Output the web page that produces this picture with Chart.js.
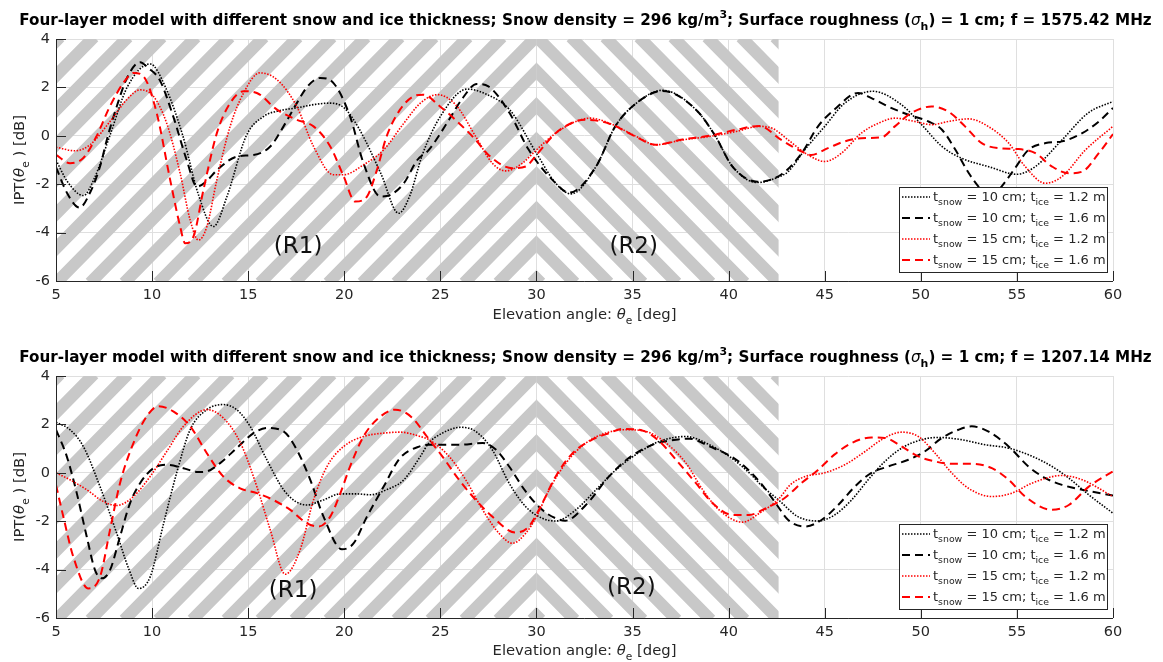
<!DOCTYPE html>
<html>
<head>
<meta charset="utf-8">
<script src="https://cdn.jsdelivr.net/npm/chart.js@4.4.1/dist/chart.umd.min.js"></script>
<style>
  body { margin: 0; background: #fff; width: 1163px; height: 662px; overflow: hidden; }
  .panel { position: absolute; left: 0; width: 1163px; height: 331px; }
</style>
</head>
<body>
<div class="panel" style="top:0"><canvas id="top"></canvas></div>
<div class="panel" style="top:331px"><canvas id="bottom"></canvas></div>
<script>
// ---- data: f = 1575.42 MHz (top panel) ----
const topDotBlackX = [5, 5.6, 6.42, 7.0, 7.8, 8.7, 9.9, 10.7, 11.6, 12.4, 13.19, 13.9, 14.9, 15.8, 16.7, 17.5, 18.5, 19.27, 20.0, 20.8, 21.9, 22.83, 23.4, 24.06, 25, 26.4, 27.3, 28.6, 30, 31, 31.8, 33.1, 34.1, 35.2, 36.56, 38.3, 39.3, 40.2, 41.5, 42.6, 43.1, 43.96, 45, 46.04, 47.5, 49, 50.04, 51.1, 52.1, 53.5, 55, 55.96, 57.35, 58.7, 60]
const topDotBlackY = [-1.0, -1.9, -2.47, -1.75, 0, 2.0, 2.97, 2.0, 0, -2.4, -3.75, -2.5, 0, 0.8, 1.05, 1.15, 1.3, 1.35, 1.15, 0.25, -1.55, -3.2, -2.5, -0.79, 0.8, 1.93, 1.75, 1.08, -0.72, -1.96, -2.4, -1.27, 0.39, 1.35, 1.88, 1.08, 0, -1.27, -1.93, -1.7, -1.48, -0.58, 0.39, 1.35, 1.84, 1.28, 0.46, -0.44, -0.92, -1.27, -1.59, -1.27, -0.17, 0.94, 1.42]

const topDashBlackX = [5, 5.6, 6.22, 6.8, 7.29, 7.7, 8.16, 8.7, 9.375, 9.8, 10.4, 11.1, 11.8, 12.33, 12.8, 13.4, 14.4, 15.28, 16.15, 16.84, 17.53, 18.1, 18.75, 19.44, 20.3, 21.0, 21.88, 22.4, 23.1, 23.8, 24.4, 25.45, 26.1, 26.9, 27.5, 28.6, 29.6, 31.0, 31.7, 33.1, 34.1, 35.2, 36.56, 38.3, 39.3, 40.2, 41.5, 42.74, 43.8, 44.65, 45.5, 46.74, 47.43, 48.3, 49.35, 50.4, 51.1, 51.8, 52.5, 53.0, 53.6, 54.2, 54.9, 55.6, 56.5, 57.35, 58.4, 59.26, 60]
const topDashBlackY = [-1.3, -2.4, -2.97, -2.3, -1.27, 0, 1.21, 2.4, 3.04, 2.8, 2.3, 0.8, -1.0, -2.1, -1.9, -1.4, -0.86, -0.79, -0.44, 0.39, 1.35, 2.05, 2.39, 2.18, 0.8, -1.13, -2.51, -2.44, -1.96, -1.0, -0.58, 0.66, 1.49, 2.14, 2.04, 0.94, -0.58, -1.96, -2.35, -1.27, 0.39, 1.35, 1.85, 1.08, 0, -1.27, -1.9, -1.6, -0.72, 0.39, 1.08, 1.77, 1.56, 1.21, 0.87, 0.59, 0.25, -0.58, -1.55, -2.1, -2.6, -2.1, -1.34, -0.58, -0.3, -0.23, 0.11, 0.59, 1.15]

const topDotRedX = [5, 6.0, 6.77, 7.81, 8.68, 9.375, 10.07, 10.76, 11.46, 11.98, 12.41, 12.85, 13.37, 14.06, 14.76, 15.6, 16.5, 17.53, 18.4, 19.44, 19.97, 21.0, 22.05, 23.1, 23.96, 24.84, 25.8, 26.84, 27.7, 28.4, 29.27, 30, 31, 32.05, 32.8, 33.8, 35.2, 36.2, 37.6, 39, 40.4, 41.6, 42.3, 43.1, 44.13, 45, 45.87, 46.9, 47.8, 48.65, 49.7, 50.56, 51.43, 52.5, 53.5, 54.57, 55.43, 56.48, 57.35, 58.57, 60]
const topDotRedY = [-0.47, -0.62, -0.37, 0.59, 1.49, 1.9, 1.63, 0.52, -1.55, -3.48, -4.31, -3.75, -1.82, 0.39, 1.77, 2.6, 2.32, 1.21, -0.44, -1.61, -1.61, -1.2, -0.58, 0.52, 1.35, 1.7, 1.28, -0.03, -1.13, -1.45, -1.13, -0.58, 0.11, 0.59, 0.73, 0.52, -0.03, -0.37, -0.17, -0.03, 0.18, 0.39, 0.3, -0.17, -0.79, -1.06, -0.72, 0.11, 0.52, 0.73, 0.59, 0.46, 0.59, 0.7, 0.39, -0.3, -1.27, -1.96, -1.68, -0.58, 0.39]

const topDashRedX = [5, 5.73, 6.42, 7.1, 7.8, 8.5, 9.03, 9.55, 10.24, 10.94, 11.46, 11.72, 12.15, 12.67, 13.37, 14.06, 14.76, 15.45, 16.5, 17.53, 18.4, 19.27, 19.97, 20.57, 21.18, 21.7, 22.2, 22.9, 23.6, 24.1, 25.0, 25.97, 26.84, 27.5, 28.75, 29.44, 30, 31, 32.05, 32.6, 33.8, 35.2, 36.2, 37.6, 39, 40.4, 41.6, 42.74, 43.8, 44.3, 45.17, 46.04, 46.9, 47.96, 48.65, 49.5, 50.56, 51.43, 52.3, 53.17, 54.04, 55.09, 55.96, 56.83, 57.7, 58.4, 59.26, 60]
const topDashRedY = [-0.79, -1.13, -0.92, -0.03, 1.21, 2.18, 2.6, 2.46, 0.94, -1.82, -3.75, -4.44, -4.17, -2.24, 0.11, 1.35, 1.84, 1.77, 1.08, 0.66, 0.39, -0.44, -1.68, -2.72, -2.51, -1.41, -0.03, 1.08, 1.63, 1.7, 1.2, 0.52, -0.17, -0.79, -1.34, -1.27, -0.79, 0.11, 0.6, 0.66, 0.5, -0.05, -0.37, -0.15, 0, 0.25, 0.41, -0.17, -0.65, -0.79, -0.51, -0.23, -0.1, -0.06, 0.39, 0.94, 1.21, 1.0, 0.39, -0.3, -0.51, -0.55, -0.72, -1.27, -1.55, -1.48, -0.72, 0.07]

// ---- data: f = 1207.14 MHz (bottom panel) ----
const botDotBlackX = [5, 5.73, 6.42, 7.29, 8.16, 8.8, 9.29, 9.9, 10.6, 11.28, 11.98, 12.85, 13.68, 14.4, 15.1, 15.97, 16.84, 17.5, 18.06, 18.92, 19.8, 20.66, 21.35, 22.2, 23.1, 23.96, 24.4, 25.1, 26.06, 26.84, 27.7, 28.58, 29.44, 30.3, 31.0, 32.05, 33.1, 34.13, 35.17, 36.4, 37.78, 39, 40.03, 41.07, 41.77, 42.64, 43.6, 44.65, 45.52, 46.4, 47.26, 48.13, 49, 50.04, 50.9, 52.1, 53.35, 54.57, 55.8, 56.83, 57.7, 58.74, 60]
const botDotBlackY = [2.09, 1.78, 1.09, -0.57, -2.5, -4.0, -4.78, -4.3, -2.09, 0, 1.78, 2.61, 2.82, 2.61, 1.92, 0.54, -0.7, -1.2, -1.33, -1.12, -0.87, -0.87, -0.91, -0.7, -0.29, 0.68, 1.23, 1.64, 1.88, 1.71, 0.95, -0.43, -1.4, -1.88, -1.99, -1.53, -0.7, 0.12, 0.75, 1.3, 1.5, 1.16, 0.68, 0, -0.57, -1.15, -1.81, -1.99, -1.74, -1.12, -0.29, 0.47, 1.02, 1.37, 1.46, 1.37, 1.16, 1.02, 0.68, 0.26, -0.22, -0.91, -1.67]

const botDashBlackX = [5, 5.56, 6.08, 6.6, 7.03, 7.38, 7.81, 8.33, 8.85, 9.375, 10.07, 10.76, 11.63, 12.4, 12.85, 13.54, 14.4, 15.28, 15.97, 16.84, 17.53, 18.23, 18.92, 19.88, 20.49, 21.18, 22.05, 22.9, 23.96, 24.4, 25.97, 27.2, 27.9, 28.58, 29.44, 30.3, 31, 31.5, 32.57, 33.78, 34.8, 36.04, 37.26, 37.95, 39, 40.4, 41.6, 42.4, 43.1, 43.96, 44.83, 45.7, 46.57, 47.43, 48.3, 49.35, 50.2, 51.1, 51.96, 52.65, 53.5, 54.57, 55.6, 56.48, 57.35, 58.4, 60]
const botDashBlackY = [1.78, 0.68, -0.84, -2.64, -4.02, -4.36, -4.02, -2.64, -1.26, -0.43, 0.19, 0.33, 0.19, 0.03, 0.06, 0.4, 1.02, 1.64, 1.85, 1.71, 0.95, -0.29, -1.81, -3.16, -2.91, -1.81, -0.57, 0.61, 1.1, 1.16, 1.16, 1.23, 0.95, 0.26, -0.77, -1.53, -1.88, -1.98, -1.33, -0.15, 0.61, 1.16, 1.37, 1.41, 1.09, 0.54, -0.36, -1.2, -1.95, -2.22, -1.95, -1.33, -0.57, 0, 0.26, 0.54, 0.88, 1.44, 1.78, 1.92, 1.71, 1.09, 0.26, -0.22, -0.5, -0.7, -0.94]

const botDotRedX = [5, 5.73, 6.6, 7.47, 8.16, 9.03, 9.9, 10.76, 11.63, 12.85, 13.7, 14.6, 15.45, 16.15, 16.93, 17.7, 18.4, 19.1, 19.97, 21.0, 22.05, 22.9, 23.96, 24.4, 25.45, 26.32, 27.2, 28.05, 28.75, 29.44, 30, 30.66, 31.53, 32.57, 33.6, 34.65, 35.7, 36.74, 37.78, 38.65, 39.5, 40.73, 41.6, 42.64, 43.2, 44.0, 45, 46.04, 47.1, 47.96, 49, 49.87, 50.74, 51.6, 52.48, 53.7, 54.74, 55.78, 57.35, 58.4, 60]
const botDotRedY = [0, -0.29, -0.7, -1.19, -1.35, -0.98, -0.15, 0.88, 1.92, 2.61, 2.27, 1.23, -0.57, -2.36, -4.19, -3.19, -1.12, 0.26, 1.09, 1.5, 1.64, 1.68, 1.5, 1.37, 0.68, -0.29, -1.53, -2.5, -2.91, -2.5, -1.81, -0.7, 0.4, 1.23, 1.64, 1.78, 1.71, 1.23, 0.4, -0.7, -1.53, -2.04, -1.67, -1.05, -0.5, -0.15, 0, 0.33, 0.88, 1.37, 1.68, 1.5, 0.81, 0, -0.64, -0.98, -0.84, -0.43, -0.11, -0.29, -0.98]

const botDashRedX = [5, 5.38, 5.9, 6.68, 7.29, 7.81, 8.33, 9.03, 9.72, 10.33, 11.1, 11.98, 12.85, 13.7, 14.58, 15.45, 16.3, 17.19, 18.06, 18.66, 19.27, 19.8, 20.3, 21, 21.7, 22.66, 23.5, 24.3, 25.1, 25.97, 26.84, 27.7, 28.9, 29.6, 30.3, 31, 31.88, 32.9, 33.78, 34.48, 35.5, 36.4, 37.26, 38.3, 39.17, 40.2, 41.07, 41.94, 42.9, 43.78, 44.65, 45.5, 46.4, 47.43, 48.13, 49, 49.87, 50.74, 51.6, 52.65, 53.7, 54.57, 55.43, 56.83, 57.7, 58.74, 60]
const botDashRedY = [-0.5, -1.81, -3.47, -4.78, -4.3, -2.36, -0.43, 1.23, 2.33, 2.75, 2.54, 1.92, 0.81, -0.15, -0.64, -0.84, -1.12, -1.53, -2.09, -2.22, -1.81, -0.84, 0.26, 1.5, 2.2, 2.61, 2.3, 1.5, 0.68, -0.29, -1.12, -1.81, -2.47, -2.22, -1.26, -0.15, 0.81, 1.37, 1.64, 1.81, 1.75, 1.3, 0.54, -0.43, -1.26, -1.74, -1.74, -1.46, -1.05, -0.43, 0.12, 0.75, 1.23, 1.46, 1.44, 1.09, 0.68, 0.47, 0.37, 0.37, 0.19, -0.29, -0.98, -1.53, -1.33, -0.57, 0.06]

const seriesNames = [
  { snow: '10', ice: '1.2' },
  { snow: '10', ice: '1.6' },
  { snow: '15', ice: '1.2' },
  { snow: '15', ice: '1.6' }
]
const xTicks = [5, 10, 15, 20, 25, 30, 35, 40, 45, 50, 55, 60]
const yTicks = [-6, -4, -2, 0, 2, 4]
const hatchRegions = [[5, 30, '/'], [30, 42.6, '\\']]
const topRegionLabels = [['(R1)', 17.6, -4.58], ['(R2)', 35.06, -4.58]]
const botRegionLabels = [['(R1)', 17.34, -4.87], ['(R2)', 34.94, -4.78]]

const FONT = '"DejaVu Sans", sans-serif'
const INK = '#262626'

function pts(xs, ys) {
  return xs.map((x, i) => ({ x, y: ys[i] }))
}

// draw text made of runs, some of them sub/superscript
function drawRich(ctx, parts, x, y, size, weight, align) {
  const items = parts.map(p => {
    const s = (p.sub || p.sup) ? size * 0.72 : size
    const w = p.weight || weight
    const font = `${p.italic ? 'italic ' : ''}${w} ${s}px ${FONT}`
    ctx.font = font
    const dy = p.sub ? size * 0.32 : p.sup ? -size * 0.45 : 0
    return { t: p.t, font, dy, w: ctx.measureText(p.t).width }
  })
  const total = items.reduce((a, it) => a + it.w, 0)
  let cx = align === 'center' ? x - total / 2 : x
  ctx.textAlign = 'left'
  ctx.textBaseline = 'alphabetic'
  items.forEach(it => {
    ctx.font = it.font
    ctx.fillText(it.t, cx, y + it.dy)
    cx += it.w
  })
  return total
}

const deco = {
  id: 'deco',
  beforeDatasetsDraw(chart, args, o) {
    const { ctx, chartArea: a, scales: { x } } = chart
    const P = o.period
    const band = P * 0.5 * Math.SQRT1_2
    const mirror = x.getPixelForValue(30)
    ctx.save()
    ctx.strokeStyle = '#c8c8c8'
    ctx.lineWidth = band
    hatchRegions.forEach(([x0, x1, dir]) => {
      const p0 = x.getPixelForValue(x0), p1 = x.getPixelForValue(x1)
      ctx.save()
      ctx.beginPath()
      ctx.rect(p0, a.top, p1 - p0, a.bottom - a.top)
      ctx.clip()
      const base = a.left + a.bottom + o.phase
      ctx.beginPath()
      for (let k = base - 40 * P; k < base + 60 * P; k += P) {
        if (dir === '/') {
          ctx.moveTo(k - a.top, a.top - 2)
          ctx.lineTo(k - a.bottom, a.bottom + 2)
        } else {
          ctx.moveTo(2 * mirror - k + a.top, a.top - 2)
          ctx.lineTo(2 * mirror - k + a.bottom, a.bottom + 2)
        }
      }
      ctx.stroke()
      ctx.restore()
    })
    ctx.restore()
  },
  afterDatasetsDraw(chart, args, o) {
    const { ctx, chartArea: a, scales: { x, y } } = chart
    ctx.save()
    // region labels
    ctx.fillStyle = '#111'
    ctx.font = `23px ${FONT}`
    ctx.textAlign = 'center'
    ctx.textBaseline = 'middle'
    o.regionLabels.forEach(([t, vx, vy]) => ctx.fillText(t, x.getPixelForValue(vx), y.getPixelForValue(vy)))

    // axes lines and inward ticks
    ctx.strokeStyle = INK
    ctx.lineWidth = 1
    ctx.beginPath()
    ctx.moveTo(a.left + 0.5, a.top)
    ctx.lineTo(a.left + 0.5, a.bottom + 0.5)
    ctx.lineTo(a.right, a.bottom + 0.5)
    xTicks.forEach(v => {
      const px = Math.round(x.getPixelForValue(v)) + 0.5
      ctx.moveTo(px, a.bottom)
      ctx.lineTo(px, a.bottom - 10)
    })
    yTicks.forEach(v => {
      const py = Math.round(y.getPixelForValue(v)) + 0.5
      ctx.moveTo(a.left, py)
      ctx.lineTo(a.left + 10, py)
    })
    ctx.stroke()

    // legend
    const w = 208, h = 85
    const lx = a.right - 6 - w, ly = a.bottom - 9 - h
    ctx.fillStyle = '#fff'
    ctx.fillRect(lx, ly, w, h)
    ctx.strokeStyle = INK
    ctx.strokeRect(lx + 0.5, ly + 0.5, w, h)
    chart.data.datasets.forEach((ds, i) => {
      const cy = ly + 10 + i * 21
      ctx.strokeStyle = ds.borderColor
      ctx.lineWidth = ds.borderWidth
      ctx.setLineDash(ds.borderDash)
      ctx.beginPath()
      ctx.moveTo(lx + 3, cy)
      ctx.lineTo(lx + 31, cy)
      ctx.stroke()
      ctx.setLineDash([])
      ctx.fillStyle = INK
      const n = seriesNames[i]
      drawRich(ctx, [
        { t: 't' }, { t: 'snow', sub: true },
        { t: ` = ${n.snow} cm; t` }, { t: 'ice', sub: true },
        { t: ` = ${n.ice} m` }
      ], lx + 34, cy + 4, 13, 'normal', 'left')
    })
    ctx.restore()
  },
  afterDraw(chart, args, o) {
    const { ctx, chartArea: a } = chart
    const cx = (a.left + a.right) / 2
    ctx.save()
    ctx.fillStyle = '#000'
    drawRich(ctx, [
      { t: 'Four-layer model with different snow and ice thickness; Snow density = 296 kg/m' },
      { t: '3', sup: true },
      { t: '; Surface roughness (' },
      { t: 'σ', weight: 'normal', italic: true },
      { t: 'h', sub: true },
      { t: `) = 1 cm; f = ${o.freq} MHz` }
    ], cx + 1, o.titleY, 15.2, 'bold', 'center')

    ctx.fillStyle = INK
    drawRich(ctx, [
      { t: 'Elevation angle: ' }, { t: 'θ', italic: true }, { t: 'e', sub: true }, { t: ' [deg]' }
    ], cx, o.xTitleY, 14.8, 'normal', 'center')

    ctx.translate(24, (a.top + a.bottom) / 2)
    ctx.rotate(-Math.PI / 2)
    drawRich(ctx, [
      { t: 'IPT(' }, { t: 'θ', italic: true }, { t: 'e', sub: true }, { t: ' ) [dB]' }
    ], 0, 0, 14.8, 'normal', 'center')
    ctx.restore()
  }
}

function makeChart(id, lists, opts) {
  const styles = [
    { color: '#000000', dash: [1.5, 1.5], width: 1.6 },
    { color: '#000000', dash: [8, 5], width: 2 },
    { color: '#ff0000', dash: [1.5, 1.5], width: 1.6 },
    { color: '#ff0000', dash: [8, 5], width: 2 }
  ]
  return new Chart(document.getElementById(id), {
    type: 'line',
    data: {
      datasets: lists.map(([xs, ys], i) => ({
        label: `t_snow = ${seriesNames[i].snow} cm; t_ice = ${seriesNames[i].ice} m`,
        data: pts(xs, ys),
        borderColor: styles[i].color,
        borderDash: styles[i].dash,
        borderWidth: styles[i].width,
        pointRadius: 0,
        fill: false,
        cubicInterpolationMode: 'monotone',
        order: 4 - i
      }))
    },
    options: {
      responsive: true,
      maintainAspectRatio: false,
      animation: false,
      layout: { padding: { top: opts.top, right: 50, left: 0, bottom: 0 } },
      plugins: {
        legend: { display: false },
        tooltip: { enabled: false },
        deco: {
          period: 34,
          phase: 0,
          regionLabels: opts.regionLabels,
          freq: opts.freq,
          titleY: opts.titleY,
          xTitleY: opts.xTitleY
        }
      },
      scales: {
        x: {
          type: 'linear',
          min: 5,
          max: 60,
          afterFit: s => { s.height = opts.xAxisH },
          afterBuildTicks: s => { s.ticks = xTicks.map(v => ({ value: v })) },
          grid: { color: '#dfdfdf', drawTicks: false },
          border: { display: false },
          ticks: { color: INK, font: { family: FONT, size: 14.5 }, padding: 6, maxRotation: 0 }
        },
        y: {
          min: -6,
          max: 4,
          afterFit: s => { s.width = 56 },
          afterBuildTicks: s => { s.ticks = yTicks.map(v => ({ value: v })) },
          grid: { color: '#dfdfdf', drawTicks: false },
          border: { display: false },
          ticks: { color: INK, font: { family: FONT, size: 14.5 }, padding: 6 }
        }
      }
    },
    plugins: [deco]
  })
}

makeChart('top', [
  [topDotBlackX, topDotBlackY],
  [topDashBlackX, topDashBlackY],
  [topDotRedX, topDotRedY],
  [topDashRedX, topDashRedY]
], { top: 39, xAxisH: 50, titleY: 25, xTitleY: 319, freq: '1575.42', regionLabels: topRegionLabels })

makeChart('bottom', [
  [botDotBlackX, botDotBlackY],
  [botDashBlackX, botDashBlackY],
  [botDotRedX, botDotRedY],
  [botDashRedX, botDashRedY]
], { top: 45, xAxisH: 44, titleY: 31, xTitleY: 324, freq: '1207.14', regionLabels: botRegionLabels })
</script>
</body>
</html>
